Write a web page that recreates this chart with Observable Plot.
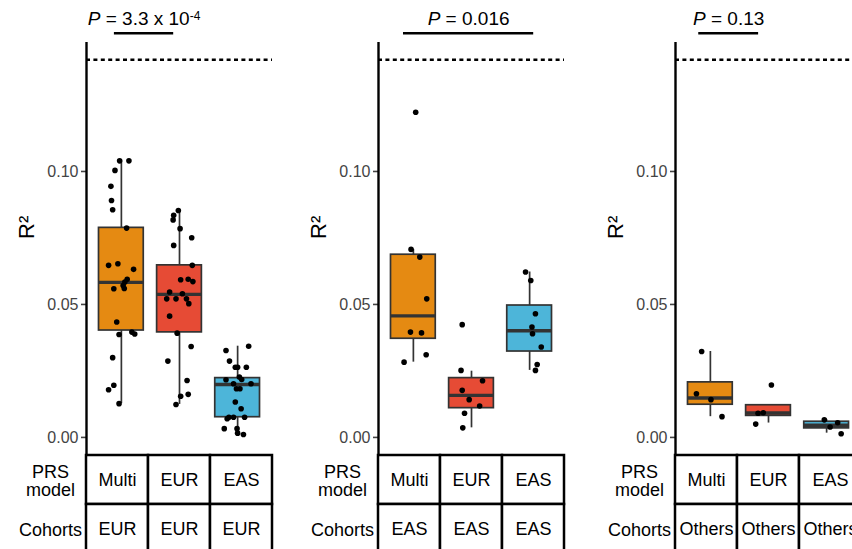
<!DOCTYPE html>
<html><head><meta charset="utf-8">
<script src="https://cdn.jsdelivr.net/npm/d3@7"></script>
<script src="https://cdn.jsdelivr.net/npm/@observablehq/plot@0.6"></script>
<style>
body{margin:0;background:#fff;}
#root{position:relative;width:852px;height:549px;overflow:hidden;background:#fff;}
.panel{position:absolute;top:0;width:292px;height:549px;}
.panel svg{position:absolute;left:0;}
</style></head><body><div id="root"></div>
<script>
// ---- categories / labels ----
const models = ["Multi", "EUR", "EAS"];
const cohortGroups = ["EUR", "EAS", "Others"];
const modelColors = ["#E58A12", "#E64B35", "#4DB5D9"];
const rowKeys = ["model", "cohort"];
const rowLabels = ["PRS\nmodel", "Cohorts"];
const yTicks = [0, 0.05, 0.10];
const refLevel = 0.142;          // dashed reference line (R²)
const pMantissa = ["3.3 x 10", "0.016", "0.13"];
const pExponent = ["-4", "", ""];
const pSpanFrom = [0.88, 0.83, 0.80];
const pSpanTo = [1.90, 3.07, 1.83];
const pLevel = 0.152;

// ---- box statistics (Multi, EUR, EAS) per cohort panel ----
const eurLo  = [0.0127, 0.0124, 0.0011];
const eurQ1  = [0.0402, 0.0395, 0.0076];
const eurMed = [0.0583, 0.0538, 0.0199];
const eurQ3  = [0.0788, 0.0647, 0.0223];
const eurHi  = [0.1040, 0.0853, 0.0343];

const easLo  = [0.0283, 0.0036, 0.0252];
const easQ1  = [0.0371, 0.0110, 0.0323];
const easMed = [0.0457, 0.0158, 0.0401];
const easQ3  = [0.0687, 0.0223, 0.0496];
const easHi  = [0.0707, 0.0249, 0.0622];

const othLo  = [0.0078, 0.0054, 0.0016];
const othQ1  = [0.0123, 0.0081, 0.0034];
const othMed = [0.0148, 0.0092, 0.0046];
const othQ3  = [0.0207, 0.0121, 0.0059];
const othHi  = [0.0323, 0.0121, 0.0066];

// ---- individual R² values and their horizontal jitter ----
const eurMultiR2 = [0.104,0.104,0.1004,0.0944,0.0891,0.0856,0.0787,0.0647,0.0653,0.0632,0.0595,0.0584,0.0571,0.0559,0.056,0.0434,0.0387,0.0396,0.0389,0.0300,0.0196,0.0179,0.0127];
const eurMultiJit = [-0.03,0.13,-0.11,-0.18,-0.17,-0.15,0.09,-0.22,-0.06,0.21,0.10,0.06,0.03,-0.13,0.05,-0.08,-0.04,0.18,0.23,-0.15,-0.13,-0.22,-0.04];
const eurEurR2 = [0.0853,0.0835,0.0818,0.0785,0.0751,0.0722,0.0647,0.0593,0.0595,0.0586,0.0547,0.054,0.0521,0.0521,0.0521,0.0503,0.0456,0.0392,0.0342,0.0287,0.0214,0.0155,0.0162,0.0124];
const eurEurJit = [-0.02,-0.10,-0.11,0.01,0.21,-0.10,0.22,0.02,0.15,0.23,-0.17,0.05,-0.22,-0.06,0.12,0.16,-0.17,-0.04,0.20,-0.20,0.13,0.02,0.15,-0.06];
const eurEasR2 = [0.0327,0.0343,0.0287,0.0264,0.0264,0.0264,0.0217,0.0227,0.0218,0.0202,0.0202,0.0183,0.0183,0.0133,0.0108,0.0076,0.0076,0.0076,0.007,0.0033,0.0033,0.0016,0.0011];
const eurEasJit = [-0.20,0.19,-0.14,-0.04,0.00,0.15,-0.20,0.03,0.07,-0.07,0.23,-0.02,0.04,-0.04,0.06,-0.15,-0.07,0.12,-0.18,-0.23,-0.01,0.00,0.10];

const easMultiR2 = [0.1223,0.0707,0.0678,0.0521,0.0396,0.0393,0.0311,0.0283];
const easMultiJit = [0.04,-0.04,0.11,0.23,-0.05,0.14,0.22,-0.16];
const easEurR2 = [0.0424,0.0252,0.0213,0.0177,0.0142,0.0118,0.0091,0.0036];
const easEurJit = [-0.16,-0.18,0.19,-0.16,-0.04,0.14,-0.12,-0.15];
const easEasR2 = [0.0622,0.059,0.0465,0.0415,0.039,0.034,0.0274,0.0252];
const easEasJit = [-0.07,0.02,0.10,0.04,0.05,0.20,0.13,0.10];

const othMultiR2 = [0.0323,0.0164,0.0142,0.0078];
const othMultiJit = [-0.15,-0.24,0.01,0.20];
const othEurR2 = [0.0197,0.0091,0.0093,0.005];
const othEurJit = [0.05,-0.18,-0.09,-0.22];
const othEasR2 = [0.0066,0.0055,0.0039,0.0014];
const othEasJit = [-0.04,0.19,0.06,0.25];

// ---- assemble per panel ----
const panels = [
  {lo: eurLo, q1: eurQ1, med: eurMed, q3: eurQ3, hi: eurHi,
   r2: [eurMultiR2, eurEurR2, eurEasR2], jit: [eurMultiJit, eurEurJit, eurEasJit]},
  {lo: easLo, q1: easQ1, med: easMed, q3: easQ3, hi: easHi,
   r2: [easMultiR2, easEurR2, easEasR2], jit: [easMultiJit, easEurJit, easEasJit]},
  {lo: othLo, q1: othQ1, med: othMed, q3: othQ3, hi: othHi,
   r2: [othMultiR2, othEurR2, othEasR2], jit: [othMultiJit, othEurJit, othEasJit]}
];
const panelLeft = [0, 292, 589];

const FONT = '"Liberation Sans", Arial, Helvetica, sans-serif';
const BOX_HALF = 0.385;
const GREY = "#333333";

function chart(i) {
  const P = panels[i];
  const boxes = models.map((m, k) => ({
    model: m, pos: k + 1, lo: P.lo[k], q1: P.q1[k], med: P.med[k], q3: P.q3[k], hi: P.hi[k], color: modelColors[k]
  }));
  const pts = models.flatMap((m, k) => P.r2[k].map((v, j) => ({pos: k + 1, jit: P.jit[k][j], r2: v})));
  const ann = [{a: pSpanFrom[i], b: pSpanTo[i], y: pLevel, mid: (pSpanFrom[i] + pSpanTo[i]) / 2, t: "P = " + pMantissa[i]}];
  const svg = Plot.plot({
    width: 292, height: 455,
    marginLeft: 86, marginRight: 20, marginTop: 42, marginBottom: 0,
    style: {background: "transparent", color: "#444444", fontFamily: FONT, overflow: "visible"},
    x: {domain: [0.4, 3.6], axis: null},
    y: {domain: [-0.0068, 0.1485], axis: null},
    color: {type: "identity"},
    marks: [
      Plot.ruleY([refLevel], {stroke: "black", strokeWidth: 2.4, strokeDasharray: "4,3.4"}),
      Plot.ruleX(boxes, {x: "pos", y1: "lo", y2: "q1", stroke: GREY, strokeWidth: 1.7}),
      Plot.ruleX(boxes, {x: "pos", y1: "q3", y2: "hi", stroke: GREY, strokeWidth: 1.7}),
      Plot.rect(boxes, {x1: d => d.pos - BOX_HALF, x2: d => d.pos + BOX_HALF, y1: "q1", y2: "q3",
                        fill: d => d.color, stroke: GREY, strokeWidth: 1.7}),
      Plot.ruleY(boxes, {y: "med", x1: d => d.pos - BOX_HALF, x2: d => d.pos + BOX_HALF, stroke: GREY, strokeWidth: 3.4}),
      Plot.dot(pts, {x: d => d.pos + d.jit, y: "r2", r: 2.8, fill: "black"}),
      Plot.axisY({ticks: yTicks, tickFormat: d3.format(".2f"), tickSize: 5, tickPadding: 3,
                  fontSize: 16, strokeWidth: 1.6, label: null}),
      Plot.ruleX([0.4], {stroke: "black", strokeWidth: 2.4}),
      Plot.text(["R²"], {frameAnchor: "left", dx: -60, dy: -10, rotate: -90, fontSize: 22, fill: "black"}),
      Plot.ruleY(ann, {y: "y", x1: "a", x2: "b", stroke: "black", strokeWidth: 2.6}),
      Plot.text(ann, {x: "mid", y: "y", text: "t", dy: -8, lineAnchor: "bottom", fontSize: 19, fill: "black"})
    ]
  });
  d3.select(svg).selectAll("text").each(function () {
    const t = d3.select(this);
    if (!t.text().startsWith("P = ")) return;
    t.text(null);
    t.append("tspan").attr("font-style", "italic").text("P");
    t.append("tspan").text(" = " + pMantissa[i]);
    if (pExponent[i]) t.append("tspan").attr("dy", "-0.45em").attr("font-size", "12px").text(pExponent[i]);
  });
  return svg;
}

function table(i) {
  const cells = models.flatMap(m => [
    {x: m, row: "model", t: m},
    {x: m, row: "cohort", t: cohortGroups[i]}
  ]);
  const rows = rowKeys.map((r, k) => ({row: r, label: rowLabels[k]}));
  return Plot.plot({
    width: 292, height: 100,
    marginLeft: 86, marginRight: 20, marginTop: 2, marginBottom: 0,
    style: {background: "transparent", color: "black", fontFamily: FONT, overflow: "visible"},
    x: {domain: models, axis: null, padding: 0},
    y: {domain: rowKeys, axis: null, padding: 0},
    marks: [
      Plot.cell(cells, {x: "x", y: "row", fill: "white", stroke: "black", strokeWidth: 2.5}),
      Plot.text(cells, {x: "x", y: "row", text: "t", fontSize: 18, fill: "black"}),
      Plot.text(rows, {y: "row", text: "label", frameAnchor: "left", textAnchor: "middle", dx: -36, dy: 1,
                       fontSize: 18, lineHeight: 1.0, fill: "black"})
    ]
  });
}

const root = document.getElementById("root");
panels.forEach((p, i) => {
  const div = document.createElement("div");
  div.className = "panel";
  div.style.left = panelLeft[i] + "px";
  const c = chart(i); c.style.top = "0px";
  const t = table(i); t.style.top = "453px";
  div.appendChild(c);
  div.appendChild(t);
  root.appendChild(div);
});
</script></body></html>
